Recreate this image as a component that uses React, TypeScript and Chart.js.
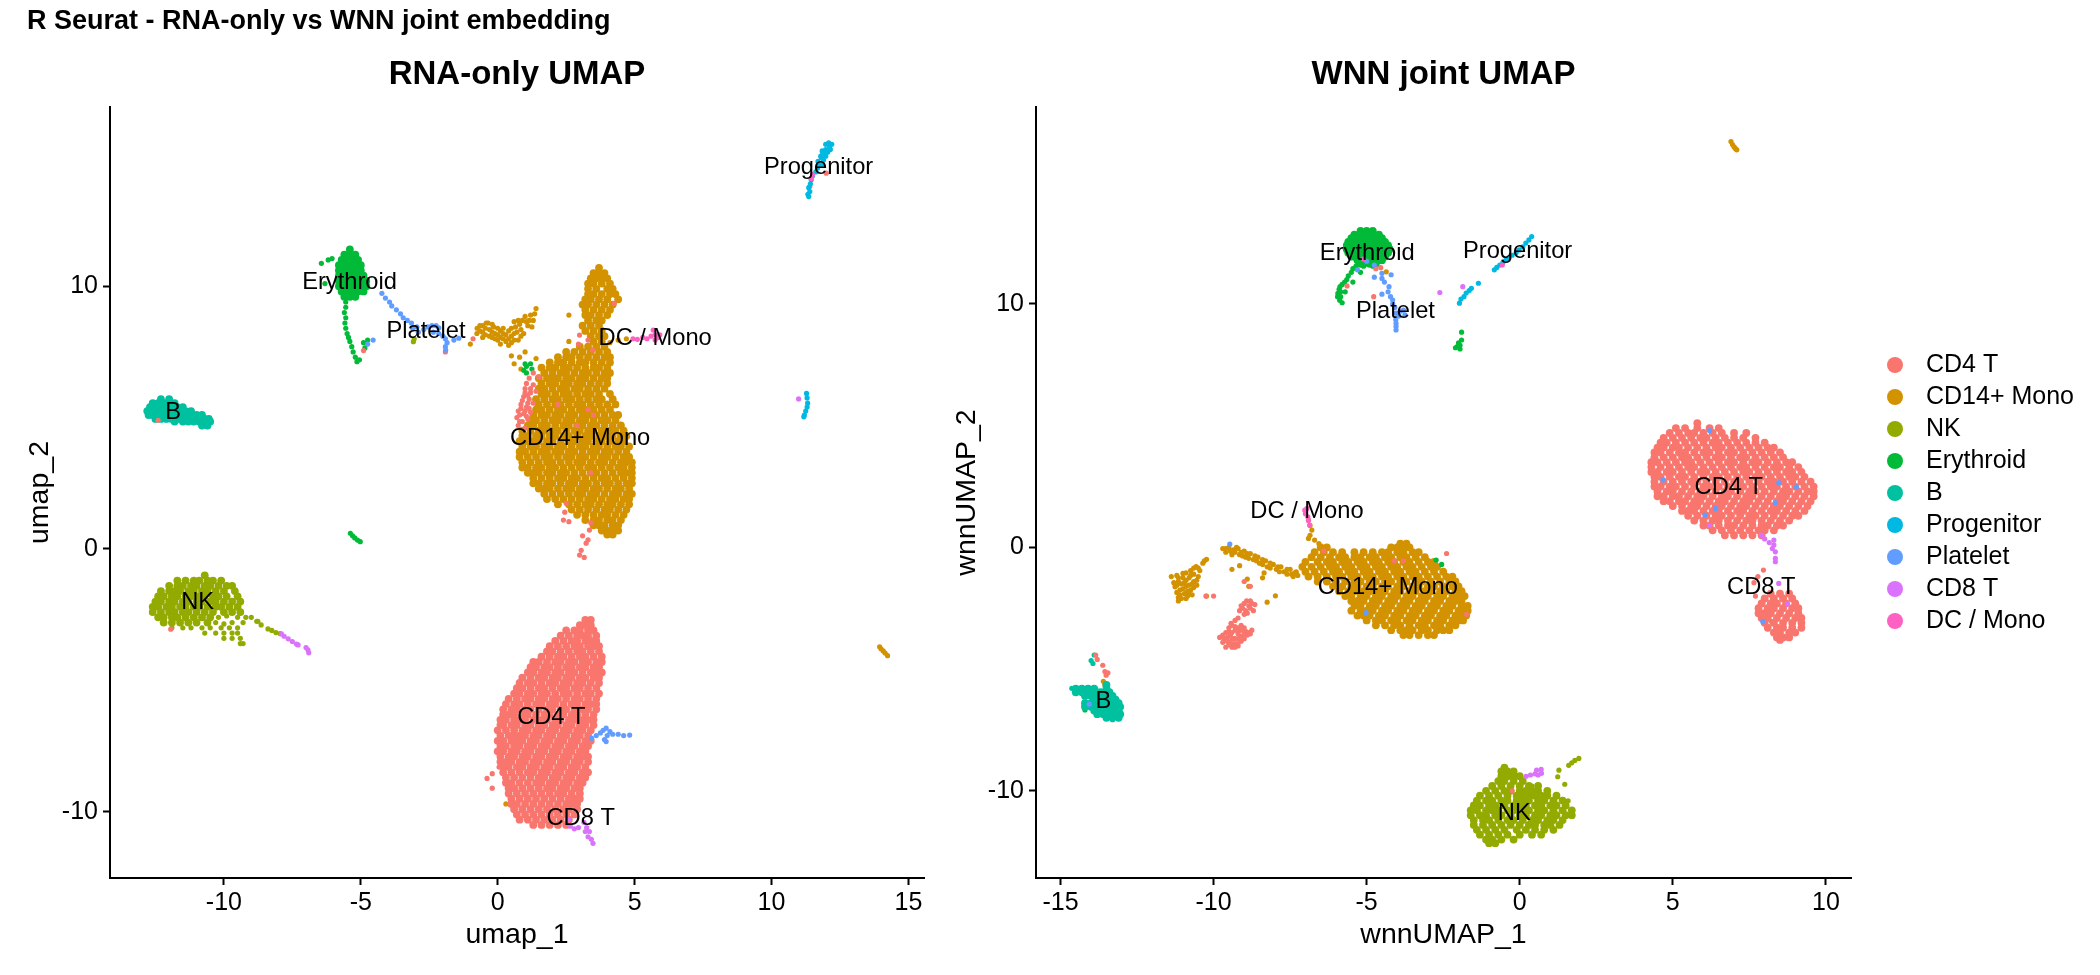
import React, { useEffect, useRef } from "react";
import Chart from "chart.js/auto";

// one row is [y, x, x, x ...], pairs are [x, y]
type Row = number[];

const categories = ["CD4 T", "CD14+ Mono", "NK", "Erythroid", "B", "Progenitor", "Platelet", "CD8 T", "DC / Mono"];
const colors = ["#F8766D", "#D39200", "#93AA00", "#00BA38", "#00C19F", "#00B9E3", "#619CFF", "#DB72FB", "#FF61C3"];
// smaller number is drawn later, on top
const layerOrder = [4, 8, 7, 6, 5, 3, 2, 1, 0];

const sharedTicks = { x: [-10, -5, 0, 5, 10, 15], y: [-10, 0, 10] };
const wnnXTicks = [-15, -10, -5, 0, 5, 10];

/* ---------- RNA-only UMAP ---------- */
const rnaLabelX = [1.96, 3.01, -10.96, -5.41, -11.85, 11.72, -2.62, 3.03, 5.75];
const rnaLabelY = [-6.39, 4.25, -2.0, 10.17, 5.23, 14.57, 8.31, -10.21, 8.05];

const rnaCd4Rows: Row[] = [
  [-2.7, 3.2, 3.4], [-2.9, 3.0, 3.2, 3.4], [-3.1, 2.5, 2.8, 3.0, 3.3, 3.5], [-3.3, 2.3, 2.6, 2.9, 3.1, 3.3, 3.6],
  [-3.5, 2.1, 2.4, 2.7, 2.9, 3.2, 3.4, 3.6], [-3.7, 1.9, 2.2, 2.5, 2.8, 3.0, 3.3, 3.5, 3.7],
  [-3.9, 1.8, 2.0, 2.3, 2.6, 2.9, 3.1, 3.4, 3.7], [-4.1, 1.6, 1.9, 2.2, 2.4, 2.7, 3.0, 3.2, 3.5, 3.8],
  [-4.3, 1.3, 1.5, 1.8, 2.1, 2.3, 2.6, 2.8, 3.1, 3.3, 3.6, 3.8], [-4.5, 1.2, 1.4, 1.7, 1.9, 2.2, 2.5, 2.7, 3.0, 3.2, 3.5, 3.7],
  [-4.7, 1.1, 1.3, 1.6, 1.8, 2.1, 2.3, 2.6, 2.8, 3.1, 3.4, 3.6, 3.8], [-4.9, 0.9, 1.2, 1.5, 1.7, 2.0, 2.2, 2.5, 2.7, 3.0, 3.2, 3.5, 3.7],
  [-5.1, 0.8, 1.1, 1.3, 1.6, 1.9, 2.1, 2.4, 2.6, 2.9, 3.1, 3.4, 3.7], [-5.3, 0.7, 0.9, 1.2, 1.5, 1.7, 2.0, 2.3, 2.5, 2.8, 3.0, 3.3, 3.6],
  [-5.5, 0.6, 0.8, 1.1, 1.3, 1.6, 1.8, 2.1, 2.4, 2.6, 2.9, 3.2, 3.4, 3.7], [-5.7, 0.4, 0.7, 1.0, 1.2, 1.5, 1.7, 2.0, 2.2, 2.5, 2.8, 3.0, 3.3, 3.6],
  [-5.9, 0.3, 0.6, 0.8, 1.1, 1.4, 1.6, 1.9, 2.1, 2.4, 2.7, 2.9, 3.2, 3.4, 3.6], [-6.1, 0.2, 0.5, 0.7, 1.0, 1.2, 1.5, 1.8, 2.0, 2.3, 2.5, 2.8, 3.1, 3.3, 3.6],
  [-6.3, 0.2, 0.4, 0.6, 0.9, 1.1, 1.4, 1.7, 1.9, 2.2, 2.4, 2.7, 2.9, 3.2, 3.5], [-6.5, 0.1, 0.3, 0.6, 0.8, 1.0, 1.3, 1.6, 1.8, 2.1, 2.3, 2.6, 2.8, 3.1, 3.3, 3.5],
  [-6.7, 0.1, 0.2, 0.5, 0.7, 1.0, 1.2, 1.5, 1.7, 2.0, 2.2, 2.5, 2.7, 3.0, 3.2, 3.5], [-6.9, 0.0, 0.3, 0.6, 0.9, 1.1, 1.4, 1.6, 1.9, 2.1, 2.4, 2.6, 2.9, 3.1, 3.4],
  [-7.1, 0.1, 0.4, 0.6, 0.8, 1.0, 1.3, 1.5, 1.8, 2.0, 2.3, 2.5, 2.8, 3.0, 3.3], [-7.3, 0.0, 0.2, 0.5, 0.7, 0.9, 1.2, 1.4, 1.7, 1.9, 2.2, 2.4, 2.7, 2.9, 3.2, 3.4],
  [-7.5, 0.1, 0.3, 0.6, 0.8, 1.1, 1.3, 1.6, 1.8, 2.1, 2.3, 2.6, 2.8, 3.1, 3.3], [-7.7, 0.0, 0.2, 0.5, 0.7, 1.0, 1.2, 1.5, 1.7, 2.0, 2.2, 2.5, 2.7, 3.0, 3.2],
  [-7.9, 0.1, 0.4, 0.6, 0.9, 1.1, 1.4, 1.6, 1.9, 2.1, 2.4, 2.6, 2.9, 3.1, 3.3], [-8.1, 0.1, 0.3, 0.5, 0.8, 1.0, 1.3, 1.5, 1.8, 2.0, 2.3, 2.5, 2.8, 3.0, 3.3],
  [-8.3, 0.2, 0.4, 0.7, 0.9, 1.2, 1.4, 1.7, 1.9, 2.2, 2.4, 2.7, 2.9, 3.2], [-8.5, 0.2, 0.5, 0.8, 1.1, 1.3, 1.6, 1.8, 2.1, 2.3, 2.6, 2.8, 3.1, 3.3],
  [-8.7, 0.3, 0.6, 0.9, 1.2, 1.5, 1.7, 2.0, 2.2, 2.5, 2.7, 3.0, 3.2], [-8.9, 0.3, 0.5, 0.8, 1.1, 1.4, 1.6, 1.9, 2.1, 2.4, 2.6, 2.9, 3.1],
  [-9.1, 0.4, 0.6, 0.9, 1.2, 1.5, 1.8, 2.0, 2.3, 2.5, 2.8, 3.0], [-9.3, 0.4, 0.7, 1.0, 1.3, 1.6, 1.9, 2.2, 2.4, 2.7, 3.0],
  [-9.5, 0.5, 0.8, 1.1, 1.4, 1.7, 2.0, 2.3, 2.6, 2.8, 3.0], [-9.7, 0.5, 0.7, 1.0, 1.3, 1.6, 1.9, 2.2, 2.5, 2.7, 2.9],
  [-9.9, 0.6, 0.9, 1.2, 1.5, 1.8, 2.1, 2.4, 2.6, 2.9], [-10.1, 0.7, 1.0, 1.3, 1.6, 1.9, 2.2, 2.5, 2.8],
  [-10.3, 0.8, 1.1, 1.4, 1.7, 2.0, 2.3, 2.6], [-10.5, 1.3, 1.6, 1.9, 2.2, 2.5],
];
const rnaCd4Strays = [
  [-0.39, -8.73], [-0.2, -8.55], [0.05, -8.3], [-0.2, -9.1], [1.15, 6.5], [1.3, 6.25], [1.0, 6.1], [1.2, 5.95], [1.4, 6.0],
  [0.95, 5.8], [1.15, 5.7], [0.85, 5.5], [1.05, 5.4], [1.3, 5.55], [0.75, 5.25], [0.95, 5.15], [1.2, 5.2], [0.7, 5.0],
  [0.9, 4.85], [1.1, 4.95], [0.75, 4.7], [1.0, 4.6], [1.3, 6.7], [1.5, 6.55], [2.5, 1.74], [2.45, 1.4], [2.6, 1.04], [2.4, 1.1],
  [1.05, 6.3], [1.2, 6.1], [1.0, 5.95], [1.1, 5.85], [0.9, 5.65], [1.1, 5.55], [0.85, 5.35], [1.0, 5.25], [1.15, 5.35], [0.8, 5.1], [1.05, 5.05], [0.8, 4.85],
  [3.35, 0.72], [3.1, 0.5], [3.3, 0.35], [3.23, 0.22], [3.05, -0.05], [2.99, -0.23], [3.16, -0.32], [3.4, 1.0],
  [4.26, 9.35], [2.99, 8.14], [3.3, 7.95], [3.47, 7.57], [2.95, 7.8], [3.4, 2.9], [2.2, 5.5], [3.5, 5.1], [2.9, 4.7], [3.3, 5.3],
  [-11.94, -3.05], [-12.4, 4.9], [-1.91, 7.5], [-4.9, 7.55], [12.0, 14.3], [11.4, 13.8], [-0.9, 8.0],
];

const rnaCd14Rows: Row[] = [
  [10.7, 3.7], [10.5, 3.5, 3.7, 3.9], [10.3, 3.4, 3.6, 3.8, 4.0], [10.1, 3.3, 3.5, 3.8, 4.1], [9.9, 3.3, 3.6, 4.0, 4.2],
  [9.7, 3.3, 3.5, 3.8, 4.1, 4.3], [9.5, 3.2, 3.4, 3.7, 4.0, 4.4], [9.3, 3.1, 3.3, 3.6, 3.9, 4.2], [9.1, 3.2, 3.5, 3.8, 4.1],
  [8.9, 3.2, 3.4, 3.7, 4.0], [8.7, 3.3, 3.6, 3.8], [8.5, 3.1, 3.4, 3.7], [8.3, 3.2, 3.5, 3.8], [8.1, 3.4, 3.7, 3.9], [7.9, 3.5, 3.8],
  [7.7, 3.0, 3.3, 3.6, 3.9], [7.5, 2.5, 2.8, 3.1, 3.4, 3.7, 4.0], [7.3, 2.2, 2.5, 2.7, 3.0, 3.3, 3.6, 3.9, 4.1],
  [7.1, 1.9, 2.2, 2.4, 2.7, 3.0, 3.2, 3.5, 3.8, 4.1], [6.9, 1.6, 1.9, 2.1, 2.4, 2.6, 2.9, 3.2, 3.5, 3.7, 4.0],
  [6.7, 1.7, 2.0, 2.3, 2.5, 2.8, 3.1, 3.3, 3.6, 3.9, 4.1], [6.5, 1.5, 1.8, 2.0, 2.2, 2.5, 2.7, 3.0, 3.2, 3.5, 3.8, 4.0],
  [6.3, 1.6, 1.9, 2.1, 2.4, 2.6, 2.9, 3.1, 3.4, 3.7, 4.0], [6.1, 1.5, 1.7, 2.0, 2.3, 2.5, 2.8, 3.0, 3.3, 3.6, 3.9],
  [5.9, 1.6, 1.8, 2.1, 2.4, 2.6, 2.9, 3.2, 3.4, 3.7, 4.1], [5.7, 1.4, 1.7, 2.0, 2.2, 2.5, 2.7, 3.0, 3.3, 3.6, 3.8, 4.2],
  [5.5, 1.5, 1.8, 2.1, 2.3, 2.6, 2.9, 3.1, 3.4, 3.7, 4.0, 4.3], [5.3, 1.4, 1.6, 1.9, 2.2, 2.4, 2.7, 3.0, 3.2, 3.5, 3.8, 4.1],
  [5.1, 1.3, 1.6, 1.8, 2.1, 2.3, 2.6, 2.8, 3.1, 3.3, 3.6, 3.9, 4.2, 4.4], [4.9, 1.2, 1.4, 1.7, 2.0, 2.2, 2.5, 2.7, 3.0, 3.2, 3.5, 3.8, 4.0, 4.3],
  [4.7, 1.1, 1.3, 1.6, 1.8, 2.1, 2.4, 2.6, 2.9, 3.1, 3.4, 3.6, 3.9, 4.2, 4.5], [4.5, 0.9, 1.2, 1.5, 1.7, 2.0, 2.2, 2.5, 2.8, 3.0, 3.3, 3.5, 3.8, 4.1, 4.3, 4.6],
  [4.3, 0.9, 1.1, 1.4, 1.6, 1.9, 2.1, 2.4, 2.6, 2.9, 3.2, 3.4, 3.7, 3.9, 4.2, 4.5, 4.7], [4.1, 0.8, 1.0, 1.3, 1.5, 1.8, 2.0, 2.3, 2.6, 2.8, 3.1, 3.3, 3.6, 3.8, 4.1, 4.4, 4.6],
  [3.9, 0.9, 1.2, 1.4, 1.7, 1.9, 2.2, 2.4, 2.7, 3.0, 3.2, 3.5, 3.7, 4.0, 4.3, 4.5, 4.8], [3.7, 0.8, 1.0, 1.3, 1.6, 1.8, 2.1, 2.3, 2.6, 2.8, 3.1, 3.4, 3.6, 3.9, 4.1, 4.4, 4.7],
  [3.5, 0.8, 1.1, 1.4, 1.7, 1.9, 2.2, 2.5, 2.7, 3.0, 3.2, 3.5, 3.8, 4.0, 4.3, 4.6, 4.8], [3.3, 0.9, 1.2, 1.5, 1.8, 2.0, 2.3, 2.6, 2.9, 3.1, 3.4, 3.7, 3.9, 4.2, 4.5, 4.7, 4.9],
  [3.1, 0.9, 1.1, 1.4, 1.6, 1.9, 2.1, 2.4, 2.7, 3.0, 3.3, 3.5, 3.8, 4.1, 4.4, 4.6, 4.9], [2.9, 1.1, 1.3, 1.5, 1.8, 2.0, 2.3, 2.5, 2.8, 3.1, 3.4, 3.6, 3.9, 4.2, 4.5, 4.7, 4.9],
  [2.7, 1.3, 1.6, 1.9, 2.2, 2.4, 2.7, 2.9, 3.2, 3.5, 3.8, 4.0, 4.3, 4.6, 4.9], [2.5, 1.3, 1.5, 1.8, 2.0, 2.3, 2.6, 2.8, 3.1, 3.3, 3.6, 3.9, 4.1, 4.4, 4.7, 4.9],
  [2.3, 1.5, 1.7, 1.9, 2.2, 2.5, 2.7, 3.0, 3.2, 3.5, 3.7, 4.0, 4.3, 4.5, 4.8], [2.1, 1.7, 2.0, 2.3, 2.6, 2.9, 3.1, 3.4, 3.6, 3.9, 4.2, 4.4, 4.7, 4.9],
  [1.9, 1.8, 2.1, 2.4, 2.7, 3.0, 3.3, 3.5, 3.8, 4.1, 4.3, 4.6, 4.8], [1.7, 2.2, 2.6, 2.9, 3.2, 3.4, 3.7, 4.0, 4.2, 4.5, 4.8],
  [1.5, 2.7, 3.0, 3.3, 3.6, 3.9, 4.1, 4.4, 4.7], [1.3, 2.9, 3.2, 3.5, 3.8, 4.0, 4.3, 4.6], [1.1, 3.2, 3.5, 3.7, 4.0, 4.2, 4.5],
  [0.9, 3.5, 3.7, 3.9, 4.2, 4.4], [0.7, 3.8, 4.0, 4.2, 4.4], [0.55, 4.0, 4.2],
];
const rnaCd14Strays = [
  [-0.76, 8.2], [-0.75, 8.4], [-0.55, 8.5], [-0.55, 8.25], [-0.55, 8.05], [-0.35, 8.6], [-0.3, 8.35], [-0.3, 8.1], [-0.15, 8.45],
  [-0.1, 8.2], [-0.1, 8.0], [0.1, 8.3], [0.1, 8.05], [0.1, 7.8], [0.3, 8.15], [0.3, 7.9], [0.5, 8.4], [0.5, 8.1], [0.5, 7.85],
  [0.7, 8.25], [0.75, 7.95], [0.6, 8.65], [0.8, 8.55], [0.9, 8.7], [1.0, 8.85], [1.2, 8.9], [1.4, 9.15], [1.3, 8.7], [1.1, 8.5],
  [0.95, 8.2], [1.25, 8.45], [0.5, 7.35], [0.8, 7.3], [0.6, 7.05], [1.0, 7.5], [1.4, 7.25], [0.85, 6.85], [2.6, 8.9], [2.6, 7.9],
  [-0.65, 8.3], [-0.65, 8.5], [-0.45, 8.4], [-0.45, 8.15], [-0.42, 8.6], [-0.2, 8.55], [-0.2, 8.25], [-0.2, 8.05], [0.0, 8.4], [0.0, 8.15], [0.0, 7.95],
  [0.2, 8.4], [0.2, 8.2], [0.2, 8.0], [0.4, 8.3], [0.4, 8.0], [0.4, 7.75], [0.6, 8.2], [0.6, 7.95], [0.85, 8.35], [0.85, 8.1], [1.05, 8.65], [1.15, 8.7], [1.35, 8.95], [0.65, 8.45], [0.75, 8.7],
  [-1.0, 7.8], [4.1, 7.85], [4.4, 7.95], [4.7, 8.0],
  [13.95, -3.72], [14.0, -3.8], [14.08, -3.88], [14.15, -3.96], [14.24, -4.06], [-5.4, 10.7], [0.3, -9.7],
];

const rnaNkRows: Row[] = [
  [-1.0, -10.7], [-1.2, -11.7, -11.4, -11.1, -10.9, -10.6, -10.4, -10.1], [-1.4, -12.0, -11.7, -11.5, -11.2, -11.0, -10.7, -10.5, -10.2, -9.9, -9.7],
  [-1.6, -12.3, -12.0, -11.8, -11.6, -11.3, -11.1, -10.8, -10.6, -10.3, -10.0, -9.6], [-1.8, -12.4, -12.2, -11.9, -11.7, -11.4, -11.2, -10.9, -10.7, -10.4, -10.2, -9.9, -9.5],
  [-2.0, -12.5, -12.3, -12.0, -11.8, -11.5, -11.3, -11.0, -10.8, -10.5, -10.3, -10.0, -9.7, -9.4], [-2.2, -12.6, -12.4, -12.1, -11.9, -11.6, -11.4, -11.1, -10.9, -10.6, -10.3, -10.1, -9.8, -9.5],
  [-2.4, -12.6, -12.3, -12.0, -11.8, -11.5, -11.3, -11.0, -10.7, -10.4, -10.0, -9.7, -9.4], [-2.6, -12.4, -12.2, -11.9, -11.7, -11.4, -11.1, -10.8, -10.5],
  [-2.8, -12.2, -11.9, -11.6, -11.3, -11.0, -10.6],
];
const rnaNkStrays = [
  [-10.2, -2.6], [-9.9, -2.55], [-9.5, -2.6], [-9.2, -2.6], [-9.0, -2.6], [-10.3, -2.8], [-10.0, -2.85], [-9.7, -2.8], [-9.3, -2.8], [-8.8, -2.75],
  [-11.9, -3.0], [-11.5, -3.0], [-11.2, -3.0], [-10.8, -3.0], [-10.5, -3.0], [-10.1, -3.0], [-9.8, -3.0], [-9.5, -3.0],
  [-10.7, -3.2], [-10.3, -3.2], [-10.0, -3.2], [-9.7, -3.2], [-9.5, -3.2], [-10.0, -3.4], [-9.7, -3.4], [-9.4, -3.4], [-9.4, -3.6], [-9.3, -3.6],
  [-8.76, -2.75], [-8.64, -2.89], [-8.39, -3.04], [-8.25, -3.1], [-8.1, -3.18], [-7.95, -3.22], [-3.08, 7.89], [-3.05, 8.0],
];

const rnaErythroidRows: Row[] = [
  [11.4, -5.4], [11.2, -5.6, -5.4, -5.2], [11.0, -5.7, -5.5, -5.3, -5.1], [10.8, -5.8, -5.6, -5.4, -5.2, -5.0], [10.6, -5.8, -5.6, -5.4, -5.2, -5.0],
  [10.4, -5.8, -5.6, -5.4, -5.2, -5.0, -4.9], [10.2, -5.8, -5.6, -5.4, -5.2, -5.0, -4.8], [10.0, -5.8, -5.6, -5.4, -5.2, -5.0, -4.8], [9.8, -5.7, -5.5, -5.3, -5.1, -4.9],
  [9.6, -5.6, -5.4, -5.2],
];
const rnaErythroidStrays = [
  [-6.19, 11.0], [-6.44, 10.87], [-6.05, 11.05], [-6.31, 10.1], [-5.55, 9.4], [-5.55, 9.2], [-5.6, 9.0], [-5.55, 8.8], [-5.58, 8.6], [-5.55, 8.4], [-5.5, 8.2],
  [-5.45, 8.05], [-5.4, 7.9], [-5.33, 7.7], [-5.28, 7.5], [-5.2, 7.3], [-5.14, 7.13], [-5.05, 7.2], [-4.9, 7.85], [-4.75, 7.95], [-4.85, 7.65],
  [-5.38, 0.6], [-5.3, 0.5], [-5.22, 0.42], [-5.12, 0.34], [-5.02, 0.28], [1.05, 6.95], [1.25, 6.85], [1.05, 6.7], [0.95, 6.8], [1.2, 7.05], [1.0, 7.05],
];

const rnaBRows: Row[] = [
  [5.7, -12.3, -12.0], [5.55, -12.6, -12.4, -12.2, -12.0, -11.8], [5.4, -12.7, -12.5, -12.3, -12.1, -11.9, -11.7, -11.5], [5.25, -12.8, -12.6, -12.4, -12.2, -12.0, -11.8, -11.6, -11.4, -11.2],
  [5.1, -12.75, -12.6, -12.4, -12.2, -12.0, -11.8, -11.6, -11.4, -11.2, -11.0, -10.8], [4.95, -12.5, -12.3, -12.1, -11.9, -11.7, -11.5, -11.3, -11.1, -10.9, -10.7, -10.55],
  [4.85, -11.8, -11.5, -11.3, -11.1, -10.9, -10.7, -10.5], [4.7, -10.8, -10.6],
];

const rnaProgenitor = [
  [12.09, 15.46], [11.98, 15.4], [12.12, 15.3], [11.98, 15.2], [12.05, 15.1], [11.88, 15.06], [11.98, 14.95], [11.82, 14.9], [11.9, 14.8], [11.75, 14.68], [11.82, 14.6],
  [12.2, 15.4], [12.15, 15.2], [11.85, 15.15], [11.8, 14.95], [11.7, 14.75],
  [11.68, 14.5], [11.62, 14.35], [11.5, 14.2], [11.45, 14.05], [11.42, 13.9], [11.36, 13.75], [11.4, 13.6], [11.33, 13.5], [11.36, 13.41],
  [11.28, 5.92], [11.3, 5.75], [11.32, 5.55], [11.3, 5.4], [11.25, 5.25], [11.2, 5.1], [11.18, 5.03],
];
const rnaPlatelet = [
  [-4.23, 9.73], [-4.1, 9.55], [-3.95, 9.4], [-3.87, 9.25], [-3.7, 9.1], [-3.55, 8.95], [-3.45, 8.8], [-3.3, 8.7], [-3.15, 8.6], [-3.1, 8.4], [-2.95, 8.45],
  [-2.9, 8.25], [-2.7, 8.35], [-2.55, 8.45], [-2.4, 8.5], [-2.25, 8.5], [-2.15, 8.42], [-2.35, 8.25], [-2.15, 8.2], [-2.0, 8.1], [-1.91, 8.0], [-1.85, 7.85], [-1.91, 7.7],
  [-1.9, 7.57], [-1.42, 8.02], [-1.6, 7.95], [-4.55, 7.95], [-4.75, 7.8],
  [3.43, -7.2], [3.6, -7.1], [3.75, -7.0], [3.85, -6.9], [3.96, -6.82], [4.1, -6.95], [4.0, -7.1], [3.9, -7.25], [3.96, -7.33], [4.2, -7.05], [4.4, -7.05], [4.6, -7.1], [4.82, -7.08],
];
const rnaCd8 = [
  [-7.9, -3.23], [-7.8, -3.32], [-7.65, -3.42], [-7.5, -3.52], [-7.35, -3.62], [-7.29, -3.65], [-7.0, -3.75], [-6.93, -3.84], [-6.9, -3.95],
  [10.99, 5.71], [2.6, -10.3], [2.65, -10.55], [2.8, -10.65], [2.95, -10.6], [3.15, -10.4], [3.25, -10.6], [3.2, -10.75], [3.35, -10.75], [3.3, -10.95], [3.42, -11.05], [3.48, -11.2],
];
const rnaDc = [
  [4.94, 8.0], [5.1, 7.98], [5.3, 8.05], [5.45, 8.0], [5.6, 8.1], [5.68, 8.33], [5.75, 8.15], [5.85, 8.05], [5.92, 8.15], [5.75, 7.95], [11.45, 14.1], [11.5, 14.25],
];

/* ---------- WNN joint UMAP ---------- */
const wnnLabelX = [6.83, -4.31, -0.18, -4.98, -13.6, -0.07, -4.06, 7.89, -6.95];
const wnnLabelY = [2.49, -1.59, -10.89, 12.11, -6.3, 12.18, 9.75, -1.62, 1.51];

const wnnCd4Rows: Row[] = [
  [5.1, 5.8], [4.9, 5.1, 5.4, 5.8, 6.2, 6.5], [4.7, 4.9, 5.2, 5.5, 5.7, 6.0, 6.3, 6.6, 7.0, 7.4],
  [4.5, 4.7, 5.0, 5.3, 5.6, 5.9, 6.1, 6.4, 6.7, 7.0, 7.3, 7.7], [4.3, 4.6, 4.8, 5.1, 5.4, 5.7, 6.0, 6.3, 6.5, 6.8, 7.1, 7.4, 7.7, 8.0],
  [4.1, 4.5, 4.7, 5.0, 5.2, 5.5, 5.8, 6.1, 6.4, 6.6, 6.9, 7.2, 7.5, 7.8, 8.1, 8.3], [3.9, 4.4, 4.6, 4.9, 5.2, 5.4, 5.7, 6.0, 6.2, 6.5, 6.8, 7.0, 7.3, 7.6, 7.9, 8.2, 8.5],
  [3.7, 4.4, 4.7, 5.0, 5.3, 5.5, 5.8, 6.1, 6.4, 6.6, 6.9, 7.2, 7.4, 7.7, 8.0, 8.3, 8.6], [3.5, 4.3, 4.5, 4.8, 5.1, 5.4, 5.6, 5.9, 6.2, 6.5, 6.8, 7.0, 7.3, 7.6, 7.8, 8.1, 8.4, 8.7, 8.9],
  [3.3, 4.3, 4.6, 4.9, 5.2, 5.5, 5.7, 6.0, 6.3, 6.6, 6.9, 7.2, 7.4, 7.7, 8.0, 8.3, 8.5, 8.8, 9.1], [3.1, 4.3, 4.5, 4.8, 5.0, 5.3, 5.6, 5.9, 6.1, 6.4, 6.7, 7.0, 7.3, 7.5, 7.8, 8.1, 8.4, 8.7, 8.9, 9.2],
  [2.9, 4.4, 4.6, 4.9, 5.2, 5.4, 5.7, 6.0, 6.3, 6.5, 6.8, 7.1, 7.4, 7.7, 7.9, 8.2, 8.5, 8.8, 9.0, 9.3], [2.7, 4.4, 4.7, 5.0, 5.3, 5.6, 5.8, 6.1, 6.4, 6.7, 7.0, 7.2, 7.5, 7.8, 8.1, 8.3, 8.6, 8.9, 9.2, 9.5],
  [2.5, 4.4, 4.6, 4.9, 5.1, 5.4, 5.7, 6.0, 6.2, 6.5, 6.8, 7.1, 7.3, 7.6, 7.9, 8.2, 8.4, 8.7, 9.0, 9.3, 9.6], [2.3, 4.5, 4.8, 5.0, 5.3, 5.6, 5.9, 6.1, 6.4, 6.7, 6.9, 7.2, 7.5, 7.7, 8.0, 8.3, 8.6, 8.8, 9.1, 9.4, 9.6],
  [2.1, 4.5, 4.7, 5.0, 5.2, 5.5, 5.8, 6.0, 6.3, 6.6, 6.8, 7.1, 7.4, 7.6, 7.9, 8.2, 8.5, 8.7, 9.0, 9.3, 9.6], [1.9, 4.7, 4.9, 5.2, 5.4, 5.7, 5.9, 6.2, 6.5, 6.7, 7.0, 7.3, 7.5, 7.8, 8.1, 8.4, 8.6, 8.9, 9.2, 9.5],
  [1.7, 5.0, 5.3, 5.6, 5.8, 6.1, 6.4, 6.6, 6.9, 7.2, 7.4, 7.7, 8.0, 8.3, 8.5, 8.8, 9.1, 9.4], [1.5, 5.3, 5.5, 5.7, 6.0, 6.3, 6.5, 6.8, 7.1, 7.3, 7.6, 7.9, 8.2, 8.4, 8.7, 9.0, 9.3],
  [1.3, 5.5, 5.8, 6.1, 6.4, 6.6, 6.9, 7.2, 7.5, 7.7, 8.0, 8.3, 8.6, 8.9, 9.1], [1.1, 5.7, 6.0, 6.3, 6.5, 6.8, 7.1, 7.4, 7.6, 7.9, 8.2, 8.5, 8.8],
  [0.9, 6.0, 6.2, 6.5, 6.8, 7.0, 7.3, 7.6, 7.9, 8.1, 8.4, 8.6], [0.7, 6.3, 6.6, 6.9, 7.2, 7.5, 7.8, 8.0, 8.3], [0.5, 6.7, 7.0, 7.3, 7.6, 7.9],
  [-1.9, 8.2, 8.5, 8.8], [-2.1, 8.0, 8.3, 8.6, 8.9], [-2.3, 7.9, 8.2, 8.4, 8.7, 9.0], [-2.5, 7.8, 8.1, 8.3, 8.6, 8.9, 9.1], [-2.7, 7.8, 8.0, 8.2, 8.5, 8.8, 9.1],
  [-2.9, 7.9, 8.1, 8.4, 8.7, 9.0, 9.2], [-3.1, 8.0, 8.3, 8.6, 8.9, 9.2], [-3.3, 8.1, 8.4, 8.6, 8.9, 9.2], [-3.5, 8.3, 8.5, 8.8, 9.0], [-3.7, 8.4, 8.6, 8.8], [-3.8, 8.5],
];
const wnnCd4Strays = [
  [7.96, -0.93], [7.78, -1.2], [7.65, -1.45], [7.7, -2.0], [-9.31, -3.74],
  [-8.92, -2.2], [-9.1, -2.4], [-8.85, -2.4], [-8.65, -2.35], [-9.15, -2.6], [-8.95, -2.6], [-8.7, -2.6], [-9.0, -2.75], [-8.8, -2.2],
  [-9.43, -3.12], [-9.3, -3.0], [-9.5, -3.3], [-9.3, -3.25], [-9.1, -3.2], [-9.6, -3.5], [-9.4, -3.5], [-9.2, -3.45], [-8.95, -3.45], [-8.75, -3.4],
  [-9.8, -3.7], [-9.55, -3.7], [-9.1, -3.65], [-8.9, -3.6], [-9.7, -3.9], [-9.5, -3.9], [-9.3, -3.95], [-9.1, -3.85], [-9.6, -4.1], [-9.4, -4.1], [-9.2, -4.05],
  [-9.0, -2.3], [-8.75, -2.3], [-9.05, -2.5], [-8.8, -2.5], [-8.9, -2.7], [-9.2, -2.9], [-9.4, -3.2], [-9.2, -3.3], [-9.0, -3.3], [-9.5, -3.45], [-9.3, -3.4], [-9.1, -3.4], [-8.85, -3.5],
  [-9.7, -3.6], [-9.45, -3.6], [-9.2, -3.55], [-9.0, -3.55], [-9.65, -3.75], [-9.4, -3.75], [-9.2, -3.75], [-9.0, -3.75], [-8.8, -3.55], [-9.55, -3.85], [-9.4, -3.95], [-9.2, -3.95], [-9.5, -4.0], [-9.3, -4.1],
  [-10.0, -2.0], [-10.25, -2.0], [-6.4, -0.14], [-2.39, -0.25], [-1.74, -2.75], [-3.8, -0.55], [-4.1, -0.55], [-8.8, -1.6], [-9.0, -1.4],
  [-13.85, -4.42], [-13.8, -4.6], [-13.62, -4.84], [-13.55, -5.1], [-13.51, -5.25], [-13.45, -5.15], [-0.25, -10.0], [-5.64, 10.74], [-4.54, 11.49], [-4.77, 10.3], [-4.7, 11.45],
];

const wnnCd14Rows: Row[] = [
  [0.15, -3.9, -3.7], [0.0, -6.5, -6.3, -4.2, -4.0, -3.8, -3.6], [-0.2, -6.7, -6.4, -6.1, -5.8, -5.4, -5.1, -4.8, -4.5, -4.3, -4.0, -3.8, -3.5, -3.3],
  [-0.4, -6.8, -6.5, -6.2, -5.9, -5.7, -5.4, -5.2, -4.9, -4.7, -4.4, -4.2, -3.9, -3.7, -3.4, -3.1], [-0.6, -7.0, -6.6, -6.3, -6.1, -5.8, -5.6, -5.3, -5.1, -4.8, -4.6, -4.3, -4.1, -3.8, -3.6, -3.3, -3.0, -2.8],
  [-0.8, -7.1, -6.8, -6.5, -6.2, -6.0, -5.7, -5.5, -5.2, -5.0, -4.7, -4.5, -4.2, -4.0, -3.7, -3.5, -3.2, -2.9, -2.7],
  [-1.0, -7.0, -6.7, -6.4, -6.1, -5.9, -5.6, -5.4, -5.1, -4.9, -4.6, -4.4, -4.1, -3.9, -3.6, -3.4, -3.1, -2.8, -2.5],
  [-1.2, -6.9, -6.6, -6.3, -6.0, -5.8, -5.5, -5.3, -5.0, -4.8, -4.5, -4.3, -4.0, -3.8, -3.5, -3.3, -3.0, -2.7, -2.4, -2.2],
  [-1.4, -6.6, -6.3, -6.0, -5.7, -5.4, -5.2, -4.9, -4.7, -4.4, -4.2, -3.9, -3.7, -3.4, -3.2, -2.9, -2.6, -2.3, -2.1],
  [-1.6, -6.1, -5.8, -5.5, -5.3, -5.0, -4.8, -4.5, -4.3, -4.0, -3.8, -3.5, -3.3, -3.0, -2.8, -2.5, -2.2, -2.0],
  [-1.8, -5.9, -5.6, -5.4, -5.1, -4.9, -4.6, -4.4, -4.1, -3.9, -3.6, -3.4, -3.1, -2.9, -2.6, -2.4, -2.1, -1.9],
  [-2.0, -5.7, -5.5, -5.2, -5.0, -4.7, -4.5, -4.2, -4.0, -3.7, -3.5, -3.2, -3.0, -2.7, -2.5, -2.2, -2.0, -1.8],
  [-2.2, -5.5, -5.3, -5.1, -4.8, -4.6, -4.3, -4.1, -3.8, -3.6, -3.3, -3.1, -2.8, -2.6, -2.3, -2.1, -1.9],
  [-2.4, -5.4, -5.2, -4.9, -4.7, -4.4, -4.2, -3.9, -3.7, -3.4, -3.2, -2.9, -2.7, -2.4, -2.2, -1.9, -1.7],
  [-2.6, -5.5, -5.2, -5.0, -4.8, -4.5, -4.3, -4.0, -3.8, -3.5, -3.3, -3.0, -2.8, -2.5, -2.3, -2.0, -1.8, -1.7],
  [-2.8, -5.3, -5.1, -4.9, -4.6, -4.4, -4.1, -3.9, -3.6, -3.4, -3.1, -2.9, -2.6, -2.4, -2.1, -1.9, -1.75],
  [-3.0, -5.0, -4.7, -4.5, -4.2, -4.0, -3.7, -3.5, -3.2, -3.0, -2.7, -2.5, -2.2, -2.0, -1.85],
  [-3.2, -4.7, -4.4, -4.1, -3.9, -3.6, -3.3, -3.1, -2.8, -2.6, -2.3, -2.1], [-3.4, -4.2, -3.9, -3.7, -3.5, -3.2, -3.0, -2.7, -2.5, -2.3],
  [-3.6, -3.8, -3.6, -3.3, -3.0, -2.8],
];
const wnnCd14Strays = [
  [-6.9, 1.12], [-6.85, 0.9], [-6.79, 0.71], [-6.85, 0.5], [-6.9, 0.37], [-6.7, 0.3], [-6.56, 0.16],
  [-9.7, -0.05], [-9.5, 0.0], [-9.6, -0.2], [-9.35, -0.1], [-9.4, -0.3], [-9.2, -0.05], [-9.15, -0.3], [-9.0, -0.15], [-8.95, -0.4], [-8.8, -0.25], [-8.7, -0.5], [-8.55, -0.4],
  [-8.5, -0.65], [-8.3, -0.55], [-8.25, -0.8], [-8.05, -0.7], [-7.95, -0.9], [-7.8, -0.8], [-7.7, -1.0], [-7.5, -0.9], [-7.45, -1.1], [-7.3, -1.0], [-7.25, -1.15],
  [-9.6, -0.05], [-9.45, -0.15], [-9.3, -0.2], [-9.25, 0.0], [-9.1, -0.2], [-9.05, -0.35], [-8.9, -0.25], [-8.85, -0.45], [-8.65, -0.35], [-8.6, -0.55], [-8.4, -0.5], [-8.4, -0.7],
  [-8.15, -0.65], [-8.15, -0.85], [-7.9, -0.8], [-7.85, -1.0], [-7.6, -0.9], [-7.6, -1.1], [-7.35, -1.05], [-7.4, -1.2],
  [-9.4, -0.9], [-8.35, -1.05], [-8.9, -1.3], [-9.15, -0.75], [-8.4, -1.25], [-8.85, -1.6],
  [-10.23, -0.49], [-10.35, -0.65], [-10.57, -0.79], [-10.45, -0.95], [-10.75, -0.95], [-11.0, -1.07], [-10.75, -1.15], [-10.5, -1.2], [-11.38, -1.2], [-11.15, -1.25], [-10.9, -1.35], [-10.65, -1.4],
  [-11.3, -1.45], [-11.05, -1.5], [-10.8, -1.55], [-10.55, -1.55], [-11.26, -1.62], [-11.0, -1.7], [-10.75, -1.75], [-11.2, -1.85], [-10.95, -1.9], [-10.7, -1.95], [-11.15, -2.05], [-10.9, -2.1], [-11.15, -2.2],
  [-10.3, -0.55], [-10.5, -0.85], [-10.65, -0.85], [-10.9, -1.05], [-10.65, -1.1], [-11.2, -1.15], [-11.0, -1.25], [-10.8, -1.25], [-10.55, -1.35], [-11.15, -1.4], [-10.95, -1.45], [-10.7, -1.5],
  [-11.2, -1.55], [-10.9, -1.6], [-10.65, -1.65], [-11.1, -1.75], [-10.85, -1.8], [-11.1, -1.95], [-10.8, -1.9], [-11.05, -2.1], [-10.85, -2.0],
  [-10.23, -2.0], [-7.98, -1.99], [-8.25, -2.25], [6.9, 16.67], [6.95, 16.55], [7.0, 16.45], [7.05, 16.38], [7.09, 16.33], [-4.36, 11.32], [-13.6, -5.5], [-13.55, -5.65],
];

const wnnNkRows: Row[] = [
  [-9.05, -0.5], [-9.2, -0.6, -0.4, -0.2], [-9.4, -0.6, -0.4, -0.2, 0.0], [-9.6, -0.7, -0.5, -0.2, 0.1], [-9.8, -0.9, -0.6, -0.3, 0.0, 0.3, 0.6],
  [-10.0, -1.1, -0.8, -0.5, -0.3, 0.0, 0.2, 0.4, 0.6, 0.9], [-10.2, -1.3, -1.0, -0.7, -0.4, -0.1, 0.1, 0.3, 0.5, 0.7, 0.9, 1.2], [-10.4, -1.4, -1.1, -0.9, -0.6, -0.4, -0.1, 0.1, 0.3, 0.6, 0.8, 1.1, 1.4],
  [-10.6, -1.5, -1.3, -1.0, -0.8, -0.5, -0.2, 0.0, 0.2, 0.5, 0.7, 1.0, 1.2, 1.5], [-10.8, -1.6, -1.4, -1.1, -0.9, -0.7, -0.4, -0.2, 0.1, 0.3, 0.6, 0.8, 1.1, 1.4, 1.7],
  [-11.0, -1.6, -1.3, -1.1, -0.8, -0.6, -0.3, 0.0, 0.2, 0.5, 0.7, 1.0, 1.2, 1.5, 1.7], [-11.2, -1.5, -1.2, -1.0, -0.7, -0.4, -0.2, 0.1, 0.4, 0.6, 0.9, 1.1, 1.4],
  [-11.4, -1.5, -1.2, -0.9, -0.6, -0.3, 0.0, 0.3, 0.5, 0.8, 1.0, 1.3], [-11.6, -1.4, -1.1, -0.8, -0.5, -0.1, 0.2, 0.5, 0.8, 1.1], [-11.8, -1.3, -1.0, -0.7, -0.4, 0.0, 0.4, 0.7],
  [-12.0, -1.1, -0.9, -0.6, -0.2], [-12.15, -1.0, -0.8],
];
const wnnNkStrays = [[1.93, -8.67], [1.8, -8.75], [1.7, -8.85], [1.6, -8.95], [1.28, -9.15], [1.24, -9.42], [1.47, -9.73], [1.58, -10.41], [0.4, -9.8], [8.23, -3.05]];

const wnnErythroidRows: Row[] = [
  [13.0, -5.2, -5.0, -4.8], [12.85, -5.4, -5.2, -5.0, -4.8, -4.6], [12.7, -5.5, -5.3, -5.1, -4.9, -4.7, -4.5], [12.55, -5.6, -5.4, -5.2, -5.0, -4.8, -4.6, -4.4],
  [12.4, -5.65, -5.5, -5.3, -5.1, -4.9, -4.7, -4.5, -4.3], [12.25, -5.65, -5.6, -5.4, -5.2, -5.0, -4.8, -4.6, -4.4, -4.25], [12.1, -5.6, -5.5, -5.3, -5.1, -4.9, -4.7, -4.5, -4.3],
  [11.95, -5.5, -5.4, -5.2, -5.0, -4.8, -4.6, -4.4], [11.8, -5.3, -5.2, -5.0, -4.8, -4.6, -4.5], [11.65, -5.2, -5.1, -4.9, -4.7],
];
const wnnErythroidStrays = [
  [-5.35, 11.55], [-5.1, 11.55], [-4.8, 11.55],
  [-5.45, 11.45], [-5.5, 11.3], [-5.6, 11.15], [-5.65, 11.0], [-5.72, 10.9], [-5.8, 10.8], [-5.87, 10.71], [-5.9, 10.6], [-5.94, 10.44], [-5.85, 10.5], [-5.95, 10.3],
  [-5.85, 10.3], [-5.88, 10.15], [-5.8, 10.05], [-5.45, 10.9], [-5.7, 10.5], [-5.2, 11.3],
  [-2.04, 8.25], [-2.0, 8.4], [-1.95, 8.3], [-1.9, 8.52], [-1.95, 8.15], [-2.1, 8.2], [-1.9, 8.84], [-2.73, -0.52], [-2.55, -0.7], [-14.2, -6.68], [7.84, -2.6],
];

const wnnBRows: Row[] = [
  [-5.65, -13.5], [-5.8, -14.5, -14.3, -14.1, -13.9, -13.5], [-5.95, -14.5, -14.3, -14.1, -13.9, -13.7, -13.5, -13.4], [-6.1, -14.2, -14.0, -13.8, -13.6, -13.4, -13.3],
  [-6.25, -13.9, -13.7, -13.5, -13.3, -13.2], [-6.4, -14.2, -14.0, -13.8, -13.6, -13.4, -13.2, -13.1], [-6.55, -14.2, -14.0, -13.8, -13.6, -13.4, -13.2, -13.05],
  [-6.7, -13.9, -13.7, -13.5, -13.3, -13.1], [-6.85, -13.8, -13.6, -13.4, -13.2, -13.05], [-7.0, -13.5, -13.3, -13.1],
];
const wnnBStrays = [[-13.9, -4.42], [-13.94, -4.77], [-14.0, -4.65], [-14.63, -5.79], [-13.3, -7.08]];

const wnnProgenitor = [
  [-1.97, 10.03], [-1.92, 10.2], [-1.82, 10.3], [-1.75, 10.45], [-1.65, 10.55], [-1.58, 10.64], [-1.35, 10.85],
  [-0.83, 11.4], [-0.75, 11.5], [-0.65, 11.6], [-0.55, 11.7], [-0.45, 11.8], [-0.35, 11.9], [-0.25, 12.0], [-0.12, 12.1], [-0.02, 12.22], [0.1, 12.35], [0.2, 12.5], [0.3, 12.63], [0.39, 12.77],
];
const wnnPlatelet = [
  [-5.0, 11.75], [-5.3, 11.4], [-4.75, 11.6], [-4.5, 11.26], [-4.5, 11.05], [-4.42, 10.9], [-4.27, 10.71], [-4.3, 10.5], [-4.22, 10.3], [-4.15, 10.16], [-4.15, 10.0], [-4.08, 9.85], [-4.04, 9.62],
  [-3.95, 9.5], [-4.05, 9.35], [-4.04, 9.2], [-4.04, 9.07], [-3.8, 9.75], [-3.75, 9.55], [-3.9, 9.7], [-4.04, 8.93], [-4.5, 10.4], [-4.2, 11.2], [-4.75, 11.1],
  [-9.47, 0.14], [-5.02, -2.68], [-14.06, -6.44], [4.68, 2.77], [9.04, 2.49], [8.46, 2.66], [6.4, 1.6], [8.35, 1.84], [6.05, 1.33], [7.94, -3.05], [6.2, 4.8],
];
const wnnCd8 = [
  [0.21, -9.4], [0.35, -9.35], [0.5, -9.3], [0.55, -9.15], [0.7, -9.12], [0.71, -9.28], [0.6, -9.35],
  [7.89, 0.51], [8.0, 0.35], [8.15, 0.2], [8.3, 0.3], [8.3, 0.1], [8.25, -0.05], [8.35, -0.18], [8.35, -0.45], [8.35, -0.59], [8.46, -1.48], [8.74, -2.33], [-2.61, 10.47], [-1.86, 10.71], [6.2, 0.9],
];
const wnnDc = [[-7.02, 1.53], [-7.0, 1.38], [-6.95, 1.6], [-6.92, 1.25], [-6.9, 1.1], [-6.86, 0.92], [-0.57, 11.6], [-5.1, 11.85]];

// rows are a thinned reading of the dense clouds: dots from them are drawn bigger
// (see DENSE_RADIUS) so they cover the cells they stand in for
const toPoints = (rows: Row[], pairs: number[][] = []) => [
  ...rows.flatMap((row) => row.slice(1).map((x) => ({ x, y: row[0], dense: true }))),
  ...pairs.map((p) => ({ x: p[0], y: p[1], dense: false })),
];

const rnaSeries = [
  toPoints(rnaCd4Rows, rnaCd4Strays), toPoints(rnaCd14Rows, rnaCd14Strays), toPoints(rnaNkRows, rnaNkStrays),
  toPoints(rnaErythroidRows, rnaErythroidStrays), toPoints(rnaBRows), toPoints([], rnaProgenitor),
  toPoints([], rnaPlatelet), toPoints([], rnaCd8), toPoints([], rnaDc),
];
const wnnSeries = [
  toPoints(wnnCd4Rows, wnnCd4Strays), toPoints(wnnCd14Rows, wnnCd14Strays), toPoints(wnnNkRows, wnnNkStrays),
  toPoints(wnnErythroidRows, wnnErythroidStrays), toPoints(wnnBRows, wnnBStrays), toPoints([], wnnProgenitor),
  toPoints([], wnnPlatelet), toPoints([], wnnCd8), toPoints([], wnnDc),
];

const FONT = "'Liberation Sans', Arial, sans-serif";
const DENSE_RADIUS = 3.9;
const SINGLE_RADIUS = 2.6;

function clusterLabels(xs: number[], ys: number[]) {
  return {
    id: "clusterLabels",
    afterDatasetsDraw(chart: any) {
      const { ctx, scales } = chart;
      ctx.save();
      ctx.font = `23.7px ${FONT}`;
      ctx.fillStyle = "#000";
      ctx.textAlign = "center";
      ctx.textBaseline = "middle";
      categories.forEach((name, i) => {
        ctx.fillText(name, scales.x.getPixelForValue(xs[i]), scales.y.getPixelForValue(ys[i]) + 1);
      });
      ctx.restore();
    },
  };
}

// the figure heading, top left of the first canvas
const figureTitle = {
  id: "figureTitle",
  afterDraw(chart: any) {
    const { ctx } = chart;
    ctx.save();
    ctx.font = `bold 27px ${FONT}`;
    ctx.fillStyle = "#000";
    ctx.textBaseline = "middle";
    ctx.fillText("R Seurat - RNA-only vs WNN joint embedding", 27, 22);
    ctx.restore();
  },
};

const pointLegend = {
  id: "pointLegend",
  afterDraw(chart: any) {
    const { ctx } = chart;
    ctx.save();
    ctx.font = `25px ${FONT}`;
    ctx.textBaseline = "middle";
    categories.forEach((name, i) => {
      const y = 365 + i * 32;
      ctx.fillStyle = colors[i];
      ctx.beginPath();
      ctx.arc(955, y, 8, 0, Math.PI * 2);
      ctx.fill();
      ctx.fillStyle = "#000";
      ctx.fillText(name, 986, y);
    });
    ctx.restore();
  },
};

function axis(title: string, min: number, max: number, tickValues: number[], fit: (s: any) => void, titlePadding: any, tickPadding: number) {
  return {
    type: "linear",
    min,
    max,
    afterBuildTicks(scale: any) {
      scale.ticks = tickValues.map((value) => ({ value }));
    },
    afterFit: fit,
    title: { display: true, text: title, color: "#000", font: { family: FONT, size: 28.5 }, padding: titlePadding },
    ticks: { color: "#000", font: { family: FONT, size: 25 }, padding: tickPadding, autoSkip: false, maxRotation: 0, callback: (v: any) => String(v) },
    border: { display: true, color: "#000", width: 2 },
    grid: { display: true, drawOnChartArea: false, drawTicks: true, tickLength: 7, tickColor: "#000", tickWidth: 2 },
  };
}

function makeConfig(title: string, series: any[], xTitle: string, yTitle: string, xr: number[], yr: number[], xt: number[], yAxisWidth: number, yTitlePad: number, rightPad: number, plugins: any[]) {
  return {
    type: "scatter",
    data: {
      datasets: series.map((data, i) => ({
        label: categories[i],
        data,
        order: layerOrder[i],
        backgroundColor: colors[i],
        borderWidth: 0,
        pointRadius: (c: any) => (c.raw && c.raw.dense ? DENSE_RADIUS : SINGLE_RADIUS),
        pointHoverRadius: SINGLE_RADIUS,
      })),
    },
    options: {
      responsive: false,
      animation: false,
      events: [],
      layout: { padding: { left: 0, right: rightPad, top: 0, bottom: 0 } },
      plugins: {
        legend: { display: false },
        tooltip: { enabled: false },
        title: {
          display: true,
          text: title,
          fullSize: false,
          color: "#000",
          font: { family: FONT, size: 33, weight: "bold" },
          padding: { top: 55, bottom: 12.4 },
        },
      },
      scales: {
        x: axis(xTitle, xr[0], xr[1], xt, (s) => { s.height = 97; }, { top: 0, bottom: 23 }, 3),
        y: axis(yTitle, yr[0], yr[1], sharedTicks.y, (s) => { s.width = yAxisWidth; }, { top: yTitlePad, bottom: 0 }, 5),
      },
    },
    plugins,
  };
}

function Panel(props: { left: number; width: number; config: () => any }) {
  const ref = useRef<HTMLCanvasElement>(null);
  useEffect(() => {
    if (!ref.current) return;
    const chart = new Chart(ref.current, props.config());
    return () => chart.destroy();
  }, []);
  return <canvas ref={ref} width={props.width} height={975} style={{ position: "absolute", left: props.left, top: 0, width: props.width, height: 975 }} />;
}

export default function App() {
  return (
    <div style={{ position: "absolute", left: 0, top: 0, width: 2100, height: 975, background: "#fff", overflow: "hidden" }}>
      <Panel
        left={0}
        width={970}
        config={() => makeConfig("RNA-only UMAP", rnaSeries, "umap_1", "umap_2", [-14.16, 15.57], [-12.52, 16.82], sharedTicks.x, 110, 23, 46, [clusterLabels(rnaLabelX, rnaLabelY), figureTitle])}
      />
      <Panel
        left={940}
        width={1160}
        config={() => makeConfig("WNN joint UMAP", wnnSeries, "wnnUMAP_1", "wnnUMAP_2", [-15.8, 10.82], [-13.58, 18.09], wnnXTicks, 96, 10, 249, [clusterLabels(wnnLabelX, wnnLabelY), pointLegend])}
      />
    </div>
  );
}
